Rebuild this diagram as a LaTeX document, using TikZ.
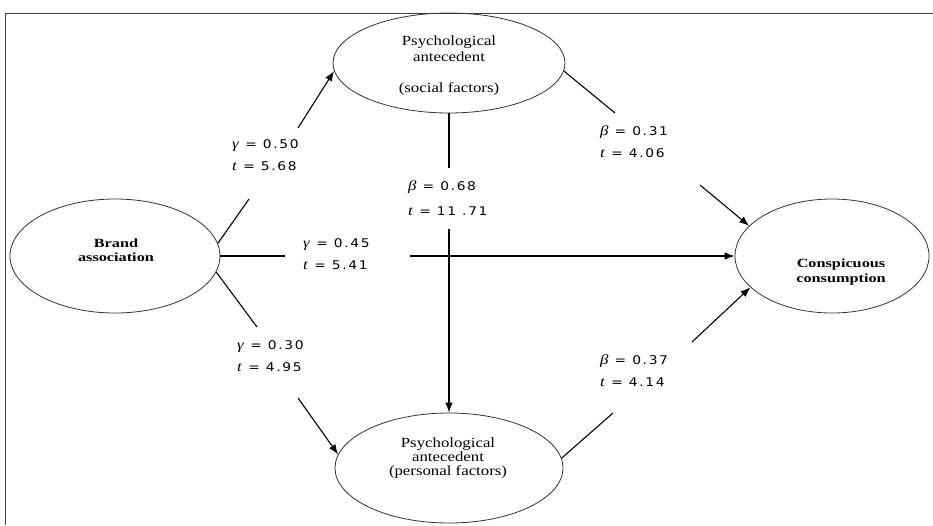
\documentclass[tikz,border=0pt]{standalone}
\usepackage{fontspec}
\setmainfont[FakeStretch=1.2]{Liberation Serif}
\newfontfamily\boldfont[FakeStretch=1.3]{Liberation Serif}
\newfontfamily\numfont[FakeStretch=1.15,LetterSpace=14]{DejaVu Sans}
\usetikzlibrary{arrows.meta,shapes.geometric,positioning}

\newcommand{\coef}[3]{\textit{#1}{\numfont\fontsize{12}{\baselineskip}\selectfont\ = #2}\\%
  \textit{t}{\numfont\fontsize{12}{\baselineskip}\selectfont\ = #3}}

\begin{document}
\begin{tikzpicture}[x=1pt,y=-1pt,
    construct/.style={draw=black!80,line width=0.8pt,ellipse,inner sep=0pt},
    nodetext/.style={align=center,inner sep=0pt},
    coefl/.style={align=left,inner sep=0pt,anchor=west,font=\fontsize{14}{22}\selectfont},
    link/.style={line width=1.1pt},
    linkarr/.style={link,-{Latex[length=10pt,width=7.5pt]}}]
  \useasboundingbox (0,0) rectangle (933,525);
  % Draw frame
  \draw[line width=1pt,black!75] (5,525) |- (933,13);
  % Draw the four constructs
  \node[construct,minimum width=210pt,minimum height=114pt] (brand) at (115,256) {};
  \node[construct,minimum width=232pt,minimum height=100pt] (social) at (449,63) {};
  \node[construct,minimum width=228pt,minimum height=110pt] (personal) at (449,468) {};
  \node[construct,minimum width=194pt,minimum height=114pt] (consp) at (832,256) {};
  \node[nodetext,font=\boldfont\bfseries\fontsize{12.5}{14}\selectfont] (brandtxt) at (116,250) {Brand\\association};
  \node[nodetext,font=\fontsize{14}{16}\selectfont] (socialtxt) at (449,66) {Psychological\\antecedent\\[15pt](social factors)};
  \node[nodetext,font=\fontsize{14}{14}\selectfont] (personaltxt) at (448,458) {Psychological\\antecedent\\(personal factors)};
  \node[nodetext,font=\boldfont\bfseries\fontsize{12.5}{15}\selectfont] (consptxt) at (841,272) {Conspicuous\\consumption};
  % Paths, broken where the estimates sit
  \coordinate (a1) at (249,199);
  \coordinate (a2) at (298,128);
  \draw[link] (brand.7) -- (a1);
  \draw[linkarr] (a2) -- (social.184);
  \coordinate (h1) at (285,256);
  \coordinate (h2) at (410,256);
  \draw[link] (brand.0) -- (h1);
  \draw[linkarr] (h2) -- (consp.180);
  \coordinate (c1) at (257,327);
  \coordinate (c2) at (298,398);
  \draw[link] (brand.-9) -- (c1);
  \draw[linkarr] (c2) -- (personal.173);
  \coordinate (v1) at (449,168);
  \coordinate (v2) at (449,229);
  \draw[link] (social.270) -- (v1);
  \draw[linkarr] (v2) -- (personal.90);
  \coordinate (s1) at (615,113);
  \coordinate (s2) at (700,185);
  \draw[link] (social.-4) -- (s1);
  \draw[linkarr] (s2) -- (consp.160);
  \coordinate (p1) at (613,413);
  \coordinate (p2) at (692,342);
  \draw[link] (personal.5) -- (p1);
  \draw[linkarr] (p2) -- (consp.201);
  % Estimates
  \node[coefl] (g1) at (232,155) {\coef{γ}{0.50}{5.68}};
  \node[coefl] (g2) at (303,254) {\coef{γ}{0.45}{5.41}};
  \node[coefl,font=\fontsize{14}{25}\selectfont] (b3) at (408,198) {\coef{β}{0.68}{11 .71}};
  \node[coefl] (g4) at (237,356) {\coef{γ}{0.30}{4.95}};
  \node[coefl] (b5) at (600,142) {\coef{β}{0.31}{4.06}};
  \node[coefl] (b6) at (600,371) {\coef{β}{0.37}{4.14}};
\end{tikzpicture}
\end{document}
